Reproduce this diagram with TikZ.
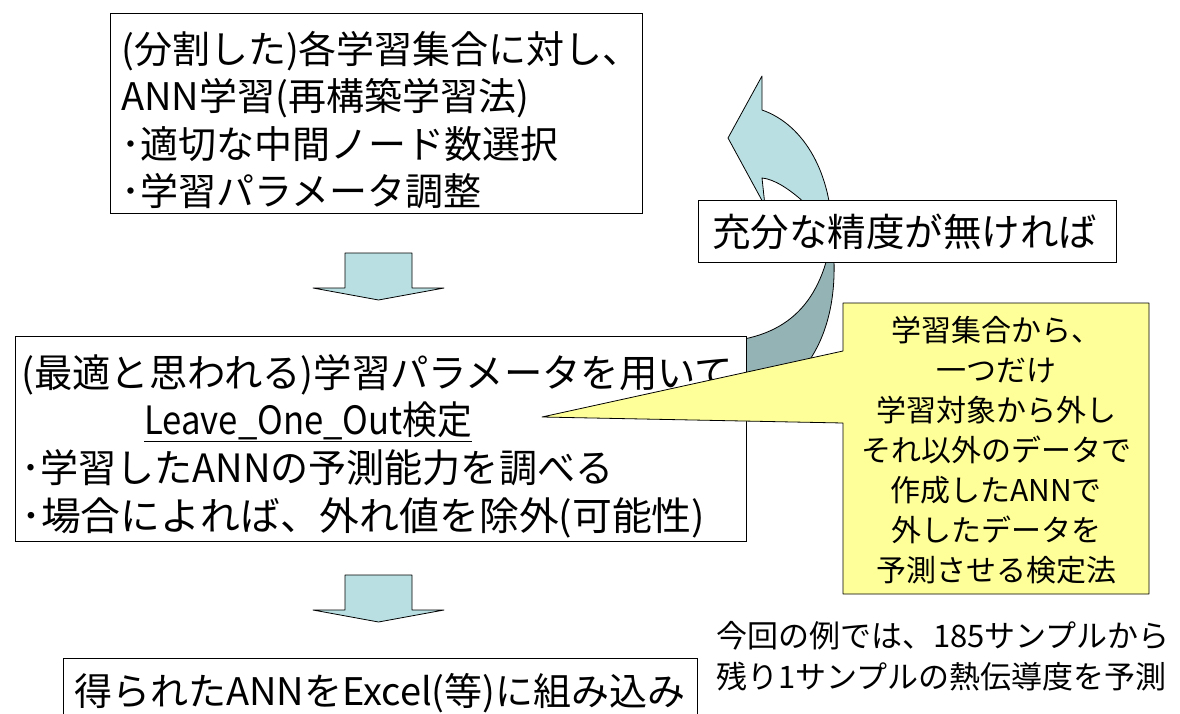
\documentclass[tikz,border=0pt]{standalone}
\usepackage{graphicx}
\usepackage{fontspec}
\setmainfont{Noto Sans CJK JP}
\definecolor{lightarr}{HTML}{B9DFE3}
\definecolor{darkarr}{HTML}{94B3B5}
\definecolor{callyel}{HTML}{FFFF99}
\begin{document}
\begin{tikzpicture}[x=1pt,y=-1pt,
  box/.style={draw=black,line width=1pt,fill=white,inner sep=0pt,outer sep=0pt,anchor=north west},
  ta/.style={anchor=base west,inner sep=0pt,font=\fontsize{38pt}{44pt}\selectfont},
  tb/.style={anchor=base west,inner sep=0pt,font=\fontsize{39pt}{46pt}\selectfont},
  tq/.style={anchor=base west,inner sep=0pt,font=\fontsize{38.5pt}{46pt}\selectfont},
  tc/.style={anchor=base west,inner sep=0pt,font=\fontsize{31pt}{40pt}\selectfont},
  shp/.style={draw=black,line width=0.8pt,line join=round}]
\useasboundingbox (0,0) rectangle (1180,714);
% curved arrow (back part)
\filldraw[shp,fill=darkarr] (832,235) .. controls (822,300) and (790,338) .. (720,342)
   -- (720,420) .. controls (830,390) and (840,300) .. (832,235) -- cycle;
% curved arrow (front part with head)
\filldraw[shp,fill=lightarr] (762,110) .. controls (805,125) and (832,175) .. (832,235)
   .. controls (820,215) and (785,180) .. (762,178) -- (765,206) -- (728,138) -- (762,76) -- cycle;
% box: 充分な精度が無ければ
\node[box,minimum width=418pt,minimum height=61pt] (bq) at (698,201) {};
\node[tq] (tq1) at (712,246) {充分な精度が無ければ};
% box 1
\node[box,minimum width=532pt,minimum height=199pt] (b1) at (110,14) {};
\node[ta] (t11) at (121,64) {(分割した)各学習集合に対し、};
\node[ta] (t12) at (121,111) {ANN学習(再構築学習法)};
\node[ta] (t13) at (121,159) {･適切な中間ノード数選択};
\node[ta] (t14) at (121,205) {･学習パラメータ調整};
% down arrows
\filldraw[shp,fill=lightarr] (345,253) -- (412,253) -- (412,288) -- (444,288) -- (378.5,300) -- (313,288) -- (345,288) -- cycle;
\filldraw[shp,fill=lightarr] (345,575) -- (412,575) -- (412,610) -- (444,610) -- (378.5,622) -- (313,610) -- (345,610) -- cycle;
% box 2
\node[box,minimum width=731pt,minimum height=205pt] (b2) at (15,336) {};
\node[tb] (t21) at (21,387) {\resizebox{712pt}{\height}{(最適と思われる)学習パラメータを用いて}};
\node[tb] (t22) at (144,434) {\resizebox{328pt}{\height}{\underline{Leave\_One\_Out検定}}};
\node[tb] (t23) at (21,482) {\resizebox{592pt}{\height}{･学習したANNの予測能力を調べる}};
\node[tb] (t24) at (21,530) {\resizebox{684pt}{\height}{･場合によれば、外れ値を除外(可能性)}};
% callout
\filldraw[shp,fill=callyel] (843,303) -- (1149,303) -- (1149,594) -- (843,594) -- (843,423) -- (542,417) -- (843,351) -- cycle;
\node[align=center,inner sep=0pt,font=\fontsize{30pt}{40pt}\selectfont] (ct) at (996,450)
  {学習集合から、\\一つだけ\\学習対象から外し\\それ以外のデータで\\作成したANNで\\外したデータを\\予測させる検定法};
% box 3
\node[box,minimum width=634pt,minimum height=70pt] (b3) at (63,658) {};
\node[ta] (t31) at (74,705) {得られたANNをExcel(等)に組み込み};
% note
\node[tc] (n1) at (716,647) {今回の例では、185サンプルから};
\node[tc] (n2) at (716,688) {残り1サンプルの熱伝導度を予測};
\end{tikzpicture}
\end{document}
